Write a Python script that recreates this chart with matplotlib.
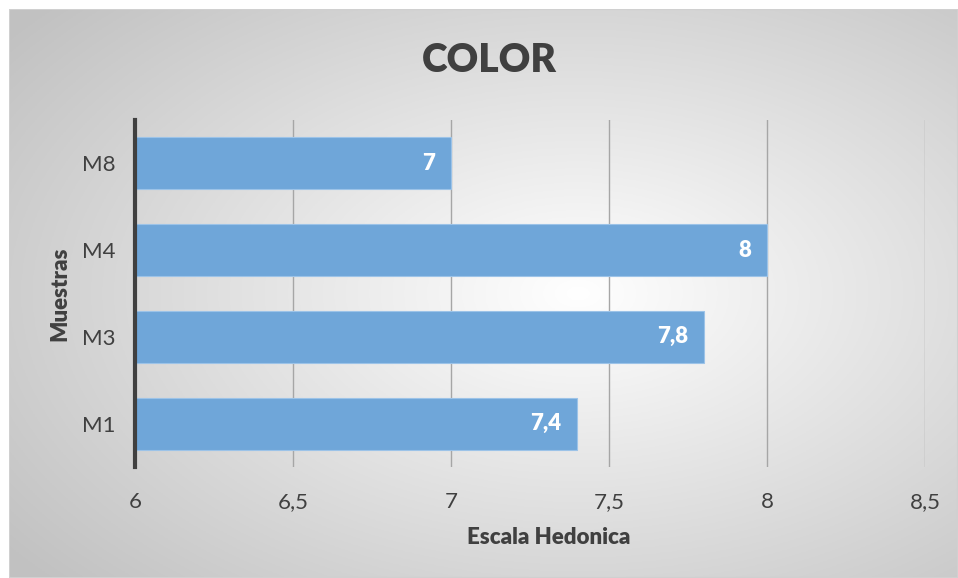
import matplotlib
matplotlib.use('Agg')
import matplotlib.pyplot as plt
from matplotlib.patches import Rectangle
import numpy as np

plt.rcParams['font.family'] = ['Lato', 'DejaVu Sans']

muestras = ['M1', 'M3', 'M4', 'M8']
valores = [7.4, 7.8, 8.0, 7.0]
etiquetas = ['7,4', '7,8', '8', '7']
ticks = [6, 6.5, 7, 7.5, 8, 8.5]
tick_labels = ['6', '6,5', '7', '7,5', '8', '8,5']

W, H = 958, 578
fig = plt.figure(figsize=(W / 100, H / 100), dpi=100)

# radial gradient background of the chart area
bg = fig.add_axes([9 / W, 0, 1 - 9 / W, 1 - 9 / H])
gx, gy = np.meshgrid(np.linspace(0, 1, 400), np.linspace(0, 1, 240))
d = np.sqrt(((gx - 0.6) / 0.75) ** 2 + ((gy - 0.5) / 0.75) ** 2)
d = np.clip(d, 0, 1)
shade = 1 - 0.24 * d
bg.imshow(np.dstack([shade, shade, shade]), aspect='auto', extent=[0, 1, 0, 1])
bg.add_patch(Rectangle((0, 0), 1, 1, fill=False, ec='#d0d0d0', lw=1.5, transform=bg.transAxes))
bg.set_axis_off()

ax = fig.add_axes([135 / W, 1 - 467 / H, 790 / W, 347 / H])
ax.patch.set_alpha(0)
y = np.arange(len(muestras))
ax.barh(y, [v - 6 for v in valores], left=6, height=0.6, color='#6fa6d9',
        edgecolor='#9cc3e8', linewidth=0.8, zorder=3)
for yi, v, t in zip(y, valores, etiquetas):
    ax.text(v - 0.05, yi, t, ha='right', va='center', color='white',
            fontsize=16, fontweight='heavy', zorder=4)

ax.set_xlim(6, 8.5)
ax.set_ylim(-0.5, 3.5)
ax.set_xticks(ticks)
ax.set_xticklabels(tick_labels)
ax.set_yticks(y)
ax.set_yticklabels(muestras)
ax.tick_params(length=0, labelsize=16, colors='#404040')
ax.tick_params(axis='x', pad=18)
ax.tick_params(axis='y', pad=14)
ax.grid(axis='x', color='#a6a6a6', lw=1, zorder=1)
for s in ['top', 'right', 'bottom']:
    ax.spines[s].set_visible(False)
ax.spines['left'].set_color('#404040')
ax.spines['left'].set_linewidth(3)
ax.spines['left'].set_zorder(5)

ax.set_xlabel('Escala Hedonica', fontsize=16, fontweight='heavy', color='#404040')
ax.set_ylabel('Muestras', fontsize=16, fontweight='heavy', color='#404040')
ax.xaxis.set_label_coords((549 - 135) / 790, -(538 - 467) / 347)
ax.yaxis.set_label_coords(-(135 - 60) / 790, 0.5)
ax.xaxis.label.set_va('center')
ax.yaxis.label.set_va('center')
fig.text(489 / W, 1 - 60 / H, 'COLOR', ha='center', va='center', fontsize=28,
         fontweight='heavy', color='#404040')

fig.savefig('out.png', dpi=100)
